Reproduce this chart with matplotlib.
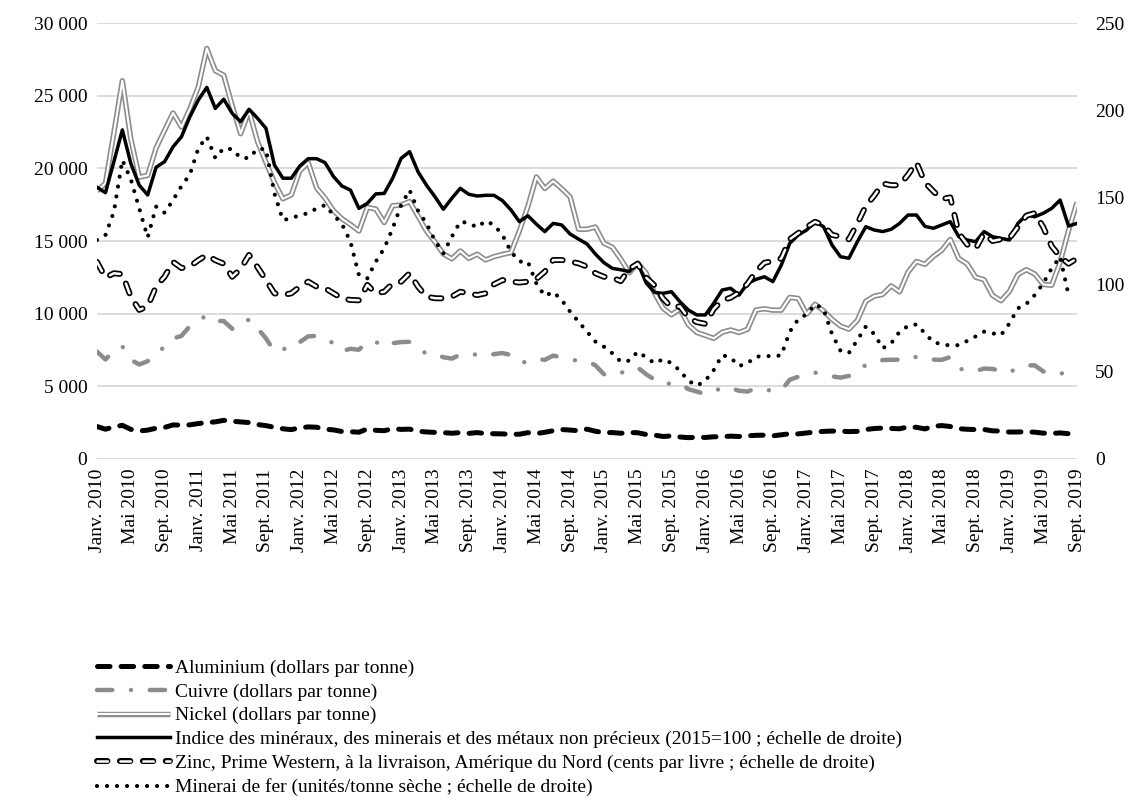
import numpy as np
import matplotlib
matplotlib.use("Agg")
import matplotlib.pyplot as plt
from matplotlib.lines import Line2D
from matplotlib.ticker import FuncFormatter, MultipleLocator

plt.rcParams["font.family"] = ["Liberation Serif", "DejaVu Serif"]
plt.rcParams["font.size"] = 14
plt.rcParams["lines.scale_dashes"] = False

# ── data (monthly, Janv. 2010 .. Sept. 2019) ──────────────────────────────────

month_names = ["Janv.", "Févr.", "Mars", "Avr.", "Mai", "Juin",
               "Juil.", "Août", "Sept.", "Oct.", "Nov.", "Déc."]
months = [f"{month_names[m]} {y}" for y in range(2010, 2020) for m in range(12)][:117]

# left axis, dollars per tonne
aluminium = [
    2235, 2049, 2207, 2316, 2041, 1931, 1988, 2118, 2173, 2345, 2331, 2351,
    2440, 2508, 2555, 2662, 2597, 2552, 2507, 2372, 2295, 2180, 2079, 2022,
    2145, 2208, 2186, 2048, 2002, 1891, 1877, 1843, 2071, 1974, 1948, 2085,
    2037, 2054, 1911, 1860, 1831, 1814, 1773, 1817, 1761, 1817, 1751, 1739,
    1727, 1696, 1706, 1811, 1751, 1838, 1947, 2030, 1990, 1946, 2055, 1909,
    1815, 1818, 1772, 1820, 1808, 1688, 1646, 1548, 1590, 1515, 1468, 1497,
    1481, 1530, 1530, 1571, 1549, 1593, 1630, 1639, 1592, 1665, 1737, 1727,
    1791, 1861, 1901, 1922, 1912, 1886, 1903, 2029, 2097, 2128, 2102, 2080,
    2209, 2180, 2069, 2254, 2300, 2236, 2087, 2044, 2026, 2030, 1938, 1920,
    1854, 1859, 1871, 1845, 1780, 1758, 1795, 1741, 1752,
]
cuivre = [
    7386, 6848, 7463, 7745, 6838, 6499, 6735, 7284, 7709, 8292, 8470, 9147,
    9556, 9868, 9503, 9493, 8959, 9067, 9619, 9001, 8300, 7394, 7581, 7565,
    8041, 8441, 8471, 8289, 7955, 7423, 7584, 7515, 8068, 8062, 7711, 7967,
    8047, 8061, 7646, 7234, 7253, 7000, 6907, 7186, 7159, 7203, 7071, 7215,
    7291, 7149, 6650, 6674, 6891, 6821, 7113, 7002, 6872, 6737, 6713, 6446,
    5831, 5729, 5940, 6042, 6295, 5833, 5457, 5127, 5217, 5216, 4800, 4639,
    4472, 4599, 4954, 4873, 4695, 4642, 4864, 4751, 4722, 4731, 5451, 5660,
    5755, 5941, 5825, 5685, 5600, 5721, 5985, 6484, 6583, 6812, 6827, 6834,
    7066, 7006, 6799, 6838, 6823, 7017, 6250, 6049, 6051, 6222, 6194, 6075,
    5939, 6301, 6439, 6443, 6029, 5866, 5941, 5709, 5760,
]
nickel = [
    18439, 18965, 22453, 26028, 22035, 19394, 19517, 21413, 22618, 23811, 22838, 24105,
    25620, 28252, 26721, 26407, 24316, 22384, 23952, 21841, 20412, 19025, 17903, 18174,
    19829, 20388, 18644, 17943, 17082, 16533, 16133, 15689, 17314, 17198, 16270, 17431,
    17471, 17722, 16712, 15686, 14938, 14115, 13776, 14311, 13807, 14092, 13699, 13926,
    14076, 14204, 15698, 17374, 19401, 18614, 19118, 18600, 18035, 15812, 15807, 15962,
    14849, 14574, 13756, 12810, 13485, 12794, 11390, 10381, 9927, 10317, 9235, 8707,
    8507, 8299, 8717, 8879, 8706, 8928, 10251, 10335, 10244, 10243, 11121, 11050,
    9974, 10646, 10190, 9610, 9150, 8932, 9536, 10855, 11205, 11325, 11912, 11504,
    12863, 13596, 13393, 13939, 14367, 15108, 13794, 13422, 12513, 12334, 11259, 10892,
    11534, 12683, 13026, 12728, 12011, 11956, 13532, 15719, 17657,
]

# right axis
indice = [
    155.8, 152.7, 170.5, 188.7, 169.5, 157.0, 151.4, 167.3, 170.5, 179.0, 184.8, 196.3,
    205.9, 213.1, 201.0, 206.3, 198.2, 193.4, 200.5, 195.4, 189.6, 168.6, 161.0, 161.0,
    168.0, 172.2, 172.2, 169.9, 161.9, 156.5, 154.2, 143.7, 146.6, 152.0, 152.3, 161.0,
    172.4, 176.2, 164.7, 157.0, 150.4, 143.2, 149.5, 155.2, 151.8, 150.8, 151.2, 151.2,
    148.1, 142.8, 136.1, 139.5, 134.7, 130.4, 135.1, 134.2, 129.0, 126.1, 123.3, 117.5,
    112.6, 109.3, 108.5, 107.5, 112.5, 101.0, 95.5, 95.0, 95.9, 90.2, 85.4, 82.6,
    82.6, 89.3, 96.9, 97.9, 94.0, 100.7, 103.0, 104.5, 101.7, 111.2, 123.7, 128.4,
    131.3, 136.1, 133.2, 122.7, 116.0, 115.1, 124.6, 133.2, 131.3, 130.4, 131.7, 135.1,
    139.9, 139.9, 133.4, 132.3, 134.2, 136.1, 127.5, 125.6, 124.6, 130.4, 127.5, 126.5,
    125.6, 135.1, 139.9, 138.9, 140.9, 143.7, 148.5, 133.6, 135.1,
]
zinc = [
    113.0, 104.0, 106.5, 106.0, 93.0, 85.5, 87.5, 99.0, 104.5, 113.0, 109.5, 110.5,
    114.0, 117.0, 114.0, 112.0, 104.5, 109.0, 117.0, 110.0, 102.6, 95.0, 94.0, 95.0,
    98.8, 101.7, 98.8, 97.9, 95.0, 92.1, 91.2, 91.0, 99.8, 95.0, 95.9, 100.7,
    101.7, 106.5, 98.8, 93.1, 92.2, 92.1, 93.1, 95.9, 95.0, 94.0, 95.0, 100.2,
    102.6, 101.7, 101.2, 101.7, 103.2, 107.4, 114.1, 114.1, 113.2, 112.2, 110.3, 106.5,
    104.5, 104.0, 102.0, 109.0, 112.0, 104.0, 99.5, 92.0, 87.0, 87.5, 81.0, 78.5,
    77.5, 86.0, 91.0, 92.5, 95.5, 100.5, 107.5, 112.5, 113.5, 115.0, 126.0, 129.5,
    133.0, 136.0, 134.0, 128.5, 127.5, 126.0, 135.0, 145.0, 151.0, 158.0, 157.0, 157.0,
    163.0, 170.0, 158.5, 153.5, 149.0, 150.0, 129.5, 123.0, 120.5, 129.5, 125.0, 126.0,
    126.5, 133.0, 139.5, 141.0, 133.0, 122.0, 116.0, 112.0, 115.0,
]
fer = [
    125.6, 128.4, 141.8, 171.4, 160.4, 143.7, 127.1, 144.7, 141.2, 148.5, 156.5, 163.2,
    178.2, 184.8, 172.6, 178.2, 177.6, 172.6, 172.6, 177.9, 177.6, 152.3, 137.0, 138.0,
    139.9, 140.9, 143.7, 145.6, 139.9, 134.7, 124.6, 105.5, 103.6, 113.2, 120.8, 132.3,
    145.6, 154.2, 142.4, 135.1, 125.2, 117.9, 127.5, 136.1, 135.3, 132.8, 136.5, 134.2,
    128.4, 118.9, 113.2, 113.2, 100.7, 93.5, 95.8, 91.2, 84.5, 78.7, 73.0, 67.3,
    64.4, 60.6, 55.8, 56.4, 61.5, 58.3, 54.9, 57.2, 55.0, 50.6, 44.9, 42.0,
    44.9, 51.0, 59.6, 58.1, 53.3, 54.9, 58.7, 59.0, 59.0, 59.4, 73.0, 80.1,
    83.0, 88.7, 86.0, 71.7, 62.1, 60.8, 68.2, 75.9, 71.7, 63.5, 66.3, 73.0,
    76.3, 77.2, 72.1, 66.9, 65.9, 65.0, 65.3, 67.7, 70.3, 73.0, 72.1, 71.0,
    77.7, 86.4, 88.9, 94.0, 100.7, 109.3, 116.0, 94.0, np.nan,
]

labels = [
    "Aluminium (dollars par tonne)",
    "Cuivre (dollars par tonne)",
    "Nickel (dollars par tonne)",
    "Indice des minéraux, des minerais et des métaux non précieux (2015=100 ; échelle de droite)",
    "Zinc, Prime Western, à la livraison, Amérique du Nord (cents par livre ; échelle de droite)",
    "Minerai de fer (unités/tonne sèche ; échelle de droite)",
]

# ── styles ────────────────────────────────────────────────────────────────────

GREY = "#8c8c8c"
st_alu = dict(color="black", lw=3.6, dashes=(9, 8), dash_capstyle="round")
st_cu = dict(color=GREY, lw=3.2, dashes=(11, 13.5, 0.01, 13.5), dash_capstyle="round")
st_ni_out = dict(color=GREY, lw=3.9, solid_capstyle="butt")
st_ni_in = dict(color="white", lw=1.5, solid_capstyle="butt")
st_idx = dict(color="black", lw=2.5)
st_zn_out = dict(color="black", lw=4.3, dashes=(7.5, 9), dash_capstyle="round")
st_zn_in = dict(color="white", lw=1.8, dashes=(7.5, 9), dash_capstyle="round")
st_fe = dict(color="black", lw=3.0, dashes=(0.01, 7.2), dash_capstyle="round")

# ── plot ──────────────────────────────────────────────────────────────────────

x = np.arange(len(months))
fig = plt.figure(figsize=(11.39, 8.01), dpi=100)
ax = fig.add_axes([97 / 1139, 1 - 459 / 801, (1077 - 97) / 1139, (459 - 23) / 801])
ax2 = ax.twinx()

ax.plot(x, aluminium, **st_alu)
ax.plot(x, cuivre, **st_cu)
ax.plot(x, nickel, **st_ni_out)
ax.plot(x, nickel, **st_ni_in)

ax2.plot(x, indice, **st_idx)
ax2.plot(x, zinc, **st_zn_out)
ax2.plot(x, zinc, **st_zn_in)
ax2.plot(x, fer, **st_fe)

ax.set_xlim(0, len(months) - 1)
ax.set_ylim(0, 30000)
ax2.set_ylim(0, 250)
ax.yaxis.set_major_locator(MultipleLocator(5000))
ax2.yaxis.set_major_locator(MultipleLocator(50))
ax.yaxis.set_major_formatter(FuncFormatter(lambda v, _: f"{int(v):,}".replace(",", " ")))

ax.set_xticks(x[::4])
ax.set_xticklabels(months[::4], rotation=90, va="top", ha="center")
ax.tick_params(axis="x", length=0, pad=7)
ax.tick_params(axis="y", length=0, pad=7)
ax2.tick_params(axis="y", length=0, pad=13)

ax.grid(axis="y", color="#d9d9d9", lw=1.3)
ax.set_axisbelow(True)
for a in (ax, ax2):
    for s in a.spines.values():
        s.set_visible(False)

handles = [
    Line2D([], [], **st_alu),
    Line2D([], [], **st_cu),
    (Line2D([], [], **st_ni_out), Line2D([], [], **st_ni_in)),
    Line2D([], [], **st_idx),
    (Line2D([], [], **st_zn_out), Line2D([], [], **st_zn_in)),
    Line2D([], [], **st_fe),
]
fig.legend(handles, labels, loc="upper left", bbox_to_anchor=(97 / 1139, 1 - 659 / 801),
           frameon=False, handlelength=3.75, handletextpad=0.25, labelspacing=0.32,
           borderpad=0, borderaxespad=0)

fig.savefig("out.png", dpi=100)
